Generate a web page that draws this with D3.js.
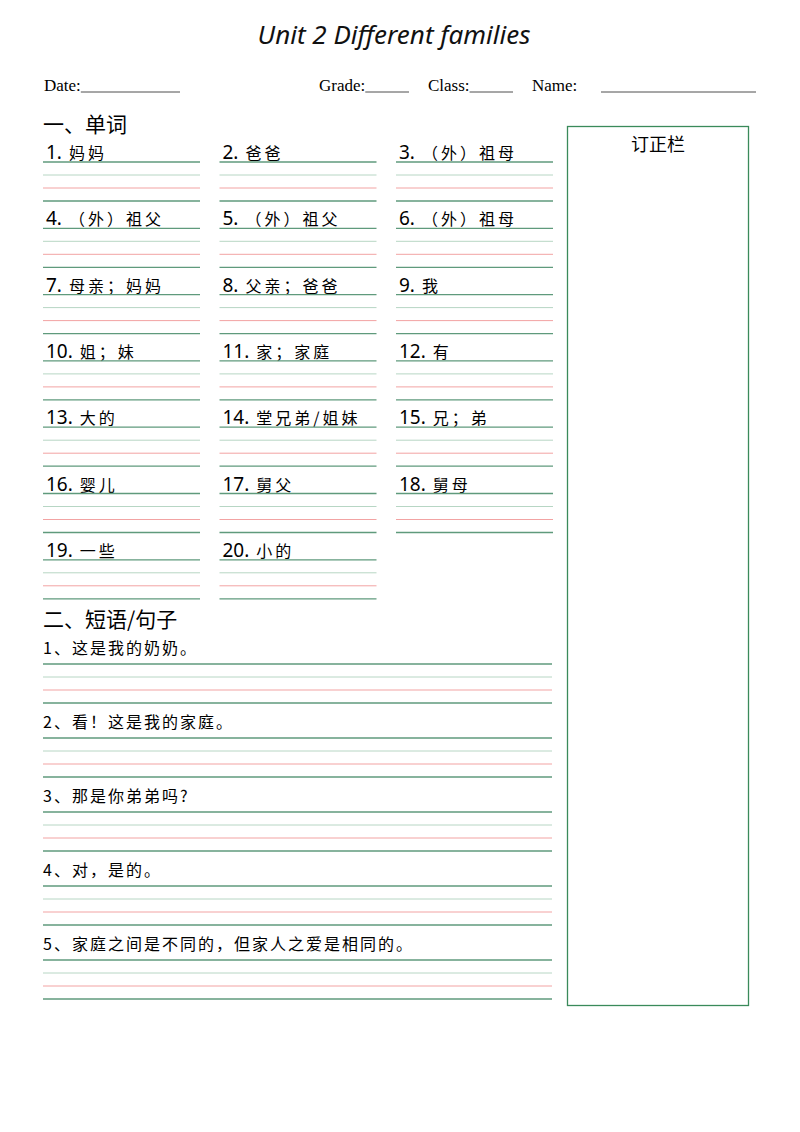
<!DOCTYPE html>
<html><head><meta charset="utf-8">
<script src="https://cdn.jsdelivr.net/npm/d3@7"></script>
<style>body{margin:0;background:#fff}</style>
</head><body>
<svg id="page" width="800" height="1132"></svg>
<script>
// worksheet content
var title = "Unit 2 Different families";
var words = ["妈妈","爸爸","（外）祖母","（外）祖父","（外）祖父","（外）祖母","母亲；妈妈","父亲；爸爸","我",
  "姐；妹","家；家庭","有","大的","堂兄弟/姐妹","兄；弟","婴儿","舅父","舅母","一些","小的"];
var sentences = ["这是我的奶奶。","看！这是我的家庭。","那是你弟弟吗?","对，是的。","家庭之间是不同的，但家人之爱是相同的。"];
var headerFields = [["Date:", 44, 180], ["Grade:", 319, 409], ["Class:", 428, 513], ["Name:", 532, 756]];
var lineColors = ["#5f9a7c", "#b7d6c4", "#f2a3a3", "#5f9a7c"];

var svg = d3.select("#page");
var cjk = "'Noto Sans CJK SC', sans-serif";

svg.append("text").attr("x", 394).attr("y", 44).attr("text-anchor", "middle")
  .attr("font-family", "'Noto Sans', sans-serif").attr("font-style", "italic")
  .attr("font-size", 26).attr("fill", "#111").text(title);

headerFields.forEach(function (f) {
  var t = svg.append("text").attr("x", f[1]).attr("y", 91)
    .attr("font-family", "'Liberation Serif', serif").attr("font-size", 17).text(f[0]);
  var w = t.node().getComputedTextLength();
  var start = f[0] === "Name:" ? 601 : f[1] + w;
  svg.append("line").attr("x1", start).attr("x2", f[2]).attr("y1", 92).attr("y2", 92)
    .attr("stroke", "#222").attr("stroke-width", 0.8);
});

// correction box
svg.append("rect").attr("x", 567.5).attr("y", 126.5).attr("width", 181).attr("height", 879)
  .attr("fill", "none").attr("stroke", "#3a8a5a").attr("stroke-width", 1.3);
svg.append("text").attr("x", 658).attr("y", 151).attr("text-anchor", "middle")
  .attr("font-family", cjk).attr("font-size", 18).text("订正栏");

function fourLines(x1, x2, y) {
  lineColors.forEach(function (c, i) {
    svg.append("line").attr("x1", x1).attr("x2", x2)
      .attr("y1", y + i * 13).attr("y2", y + i * 13)
      .attr("stroke", c).attr("stroke-width", i === 0 || i === 3 ? 1.3 : 1);
  });
}

svg.append("text").attr("x", 43).attr("y", 132).attr("font-family", cjk)
  .attr("font-size", 21).text("一、单词");

var colX = d3.scalePoint().domain([0, 1, 2]).range([43, 396]);
var rowY = d3.scaleLinear().domain([0, 1]).range([162, 228.3]);
words.forEach(function (w, i) {
  var c = i % 3, r = Math.floor(i / 3), x = colX(c), y = rowY(r);
  var t = svg.append("text").attr("x", x + 3).attr("y", y - 3).attr("font-family", cjk).attr("font-size", 16);
  t.append("tspan").attr("font-family", "'Noto Sans', sans-serif").attr("font-size", 19).text((i + 1) + ".");
  t.append("tspan").attr("dx", 7).text(w).attr("letter-spacing", 3);
  fourLines(x, x + 157, y);
});

svg.append("text").attr("x", 43).attr("y", 627).attr("font-family", cjk)
  .attr("font-size", 21).text("二、短语/句子");

var sentY = d3.scaleLinear().domain([0, 1]).range([664, 738]);
sentences.forEach(function (s, i) {
  var y = sentY(i);
  svg.append("text").attr("x", 43).attr("y", y - 10).attr("font-family", cjk)
    .attr("font-size", 16).attr("letter-spacing", 2).text((i + 1) + "、" + s);
  fourLines(43, 552, y);
});
</script>
</body></html>
